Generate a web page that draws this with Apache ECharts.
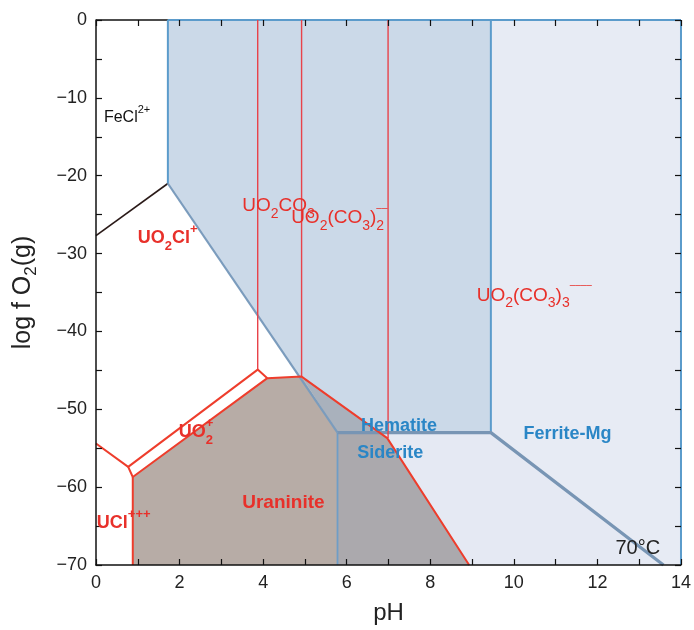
<!DOCTYPE html>
<html><head><meta charset="utf-8">
<script src="https://cdn.jsdelivr.net/npm/echarts@6/dist/echarts.min.js"></script>
<style>html,body{margin:0;padding:0;background:#fff}#c{width:694px;height:630px}</style>
</head><body><div id="c"></div>
<script>
// ---- tick labels ----
const xTickLabels = [0, 2, 4, 6, 8, 10, 12, 14];
const yTickLabels = [0, -10, -20, -30, -40, -50, -60, -70];

// ---- stability fields (pH, log fO2) ----
const hematite   = [[1.72, 0], [9.45, 0], [9.45, -53], [5.78, -53], [1.72, -21]];
const siderite   = [[5.78, -53], [9.45, -53], [13.58, -70], [5.78, -70]];
const ferriteMg  = [[9.45, 0], [14, 0], [14, -70], [13.58, -70], [9.45, -53]];
const uraninite  = [[0.88, -70], [0.88, -58.7], [4.1, -46], [4.92, -45.8], [5.78, -53], [5.78, -70]];
const uranHem    = [[4.92, -45.8], [6.79, -53], [5.78, -53]];
const uranSid    = [[5.78, -53], [6.79, -53], [6.97, -53.7], [8.93, -70], [5.78, -70]];

// ---- boundaries ----
const ironBlack   = [[0, -27.7], [1.72, -21]];
const uVert1      = [[3.87, 0], [3.87, -44.9]];
const uVert2      = [[4.92, 0], [4.92, -45.8]];
const uVert3      = [[6.99, 0], [6.99, -53.7]];
const uBandUpper  = [[0, -54.4], [0.77, -57.4], [3.87, -44.9], [4.1, -46]];
const uBandLower  = [[0.77, -57.4], [0.88, -58.7], [4.1, -46], [4.92, -45.8], [6.97, -53.7], [8.93, -70]];
const uUCl        = [[0.88, -58.7], [0.88, -70]];
const feVertLeft  = [[1.72, 0], [1.72, -21]];
const feDiag      = [[1.72, -21], [5.78, -53]];
const feVertMid   = [[9.45, 0], [9.45, -53]];
const feVertSid   = [[5.78, -53], [5.78, -70]];
const feThick     = [[5.78, -53], [9.45, -53], [13.58, -70]];
const frameTopK   = [[0, 0], [1.72, 0]];
const frameTop    = [[1.72, 0], [14, 0]];
const frameRight  = [[14, 0], [14, -70]];

// ---- labels ----
const labelNames = ['FeCl', 'UO2Cl+', 'UO2CO3', 'UO2(CO3)2', 'UO2(CO3)3', 'UO2+', 'UCl+++', 'Uraninite', 'Hematite', 'Siderite', 'Ferrite-Mg', '70°C'];
const labelPos = [[0.19, -12.5], [1.0, -28.0], [3.5, -23.9], [4.67, -25.4], [9.11, -35.4], [1.98, -52.9], [0.02, -64.6], [3.5, -62.0], [6.34, -52.2], [6.25, -55.6], [10.23, -53.2], [12.43, -67.9]];

const FONT = '"Liberation Sans", Arial, Helvetica, sans-serif';
const RED = '#e8302a';
const BLUE = '#2a86c6';

function polySeries(pts, fill) {
  return {
    type: 'custom', coordinateSystem: 'cartesian2d', silent: true, z: 1,
    data: [0],
    renderItem: function (params, api) {
      return { type: 'polygon', shape: { points: pts.map(p => api.coord(p)) }, style: { fill: fill } };
    }
  };
}
function lineSeries(pts, color, width) {
  return {
    type: 'line', data: pts, symbol: 'none', silent: true, clip: false, z: 3,
    lineStyle: { color: color, width: width }, animation: false
  };
}

const nb = { textBorderWidth: 0, textShadowBlur: 0 };
function st(o) { return Object.assign({ fontFamily: FONT }, nb, o); }
const rich = {
  b:     st({ fontSize: 18, fontWeight: 'bold', color: RED, lineHeight: 30 }),
  bb:    st({ fontSize: 19, fontWeight: 'bold', color: RED, lineHeight: 30 }),
  bsub:  st({ fontSize: 13, fontWeight: 'bold', color: RED, verticalAlign: 'bottom' }),
  bsub0: st({ fontSize: 13, fontWeight: 'bold', color: RED, verticalAlign: 'bottom', width: 0 }),
  bsup:  st({ fontSize: 13, fontWeight: 'bold', color: RED, verticalAlign: 'top' }),
  r:     st({ fontSize: 19, color: RED, lineHeight: 30 }),
  rsub:  st({ fontSize: 14, color: RED, verticalAlign: 'bottom' }),
  rsub0: st({ fontSize: 14, color: RED, verticalAlign: 'bottom', width: 0 }),
  rsup:  st({ fontSize: 10, color: RED, verticalAlign: 'top' }),
  bl:    st({ fontSize: 18, fontWeight: 'bold', color: BLUE }),
  k:     st({ fontSize: 16, color: '#111', lineHeight: 26 }),
  ksup:  st({ fontSize: 11, color: '#111', verticalAlign: 'top' }),
  t:     st({ fontSize: 20, color: '#222' })
};
const labelText = {
  'FeCl': '{k|FeCl}{ksup|2+}',
  'UO2Cl+': '{b|UO}{bsub|2}{b|Cl}{bsup|+}',
  'UO2CO3': '{r|UO}{rsub|2}{r|CO}{rsub|3}',
  'UO2(CO3)2': '{r|UO}{rsub|2}{r|(CO}{rsub|3}{r|)}{rsub0|2}{rsup|‒‒}',
  'UO2(CO3)3': '{r|UO}{rsub|2}{r|(CO}{rsub|3}{r|)}{rsub|3}{rsup|‒‒‒‒}',
  'UO2+': '{b|UO}{bsub0|2}{bsup|+}',
  'UCl+++': '{b|UCl}{bsup|+++}',
  'Uraninite': '{bb|Uraninite}',
  'Hematite': '{bl|Hematite}',
  'Siderite': '{bl|Siderite}',
  'Ferrite-Mg': '{bl|Ferrite-Mg}',
  '70°C': '{t|70°C}'
};

const chart = echarts.init(document.getElementById('c'), null, { renderer: 'canvas' });
function axisCommon(showLine) {
  return {
    type: 'value', splitLine: { show: false }, z: 6,
    axisTick: { inside: true, length: 6, lineStyle: { color: '#111', width: 1.2 } },
    axisLine: { show: showLine, onZero: false, lineStyle: { color: '#111', width: 1.5 } }
  };
}
chart.setOption({
  animation: false,
  backgroundColor: '#fff',
  grid: { left: 96, right: 11, top: 20, bottom: 59 },
  xAxis: [
    Object.assign(axisCommon(true), {
      min: 0, max: 14, interval: 1, position: 'bottom',
      axisLabel: { formatter: v => xTickLabels.includes(v) ? String(v) : '', fontFamily: FONT, fontSize: 18, color: '#222', margin: 9 },
      name: 'pH', nameLocation: 'middle', nameGap: 36,
      nameTextStyle: { fontFamily: FONT, fontSize: 24, color: '#222' }
    }),
    Object.assign(axisCommon(false), {
      min: 0, max: 14, interval: 1, position: 'top', axisLabel: { show: false }
    })
  ],
  yAxis: [
    Object.assign(axisCommon(true), {
      min: -70, max: 0, interval: 5, position: 'left',
      axisLabel: {
        formatter: v => yTickLabels.includes(v) ? (v < 0 ? '\u2212' + (-v) : String(v)) : '',
        fontFamily: FONT, fontSize: 18, color: '#222', margin: 9
      },
      name: '{n|log f O}{s|2}{n|(g)}', nameLocation: 'middle', nameGap: 56,
      nameTextStyle: {
        rich: {
          n: { fontFamily: FONT, fontSize: 25, color: '#222', lineHeight: 34 },
          s: { fontFamily: FONT, fontSize: 17, color: '#222', verticalAlign: 'bottom' }
        }
      }
    }),
    Object.assign(axisCommon(false), {
      min: -70, max: 0, interval: 5, position: 'right', axisLabel: { show: false }
    })
  ],
  series: [
    polySeries(hematite, '#cbd9e8'),
    polySeries(siderite, '#e5e9f3'),
    polySeries(ferriteMg, '#e7ebf4'),
    polySeries(uraninite, '#b7aca6'),
    polySeries(uranHem, '#a9b1bc'),
    polySeries(uranSid, '#aba9ad'),
    lineSeries(ironBlack, '#2a1a18', 1.6),
    lineSeries(frameTopK, '#111111', 1.5),
    lineSeries(feVertLeft, '#5b9bcb', 2),
    lineSeries(feDiag, '#7b9cbd', 2.2),
    lineSeries(feVertMid, '#5b9bcb', 2),
    lineSeries(feVertSid, '#6f9dc6', 1.8),
    lineSeries(frameTop, '#5b9bcb', 2),
    lineSeries(frameRight, '#5b9bcb', 2),
    lineSeries(feThick, '#7895b4', 3.2),
    lineSeries(uVert1, '#e8434a', 1.4),
    lineSeries(uVert2, '#e8434a', 1.4),
    lineSeries(uVert3, '#e8434a', 1.4),
    lineSeries(uBandUpper, '#ee3d2c', 2),
    lineSeries(uBandLower, '#ee3d2c', 2),
    lineSeries(uUCl, '#ee3d2c', 2),
    {
      type: 'scatter', symbolSize: 0, silent: true, z: 7, animation: false,
      itemStyle: { opacity: 1 },
      data: labelNames.map((n, i) => ({ name: n, value: labelPos[i] })),
      label: {
        show: true, position: [0, 0], align: 'left', verticalAlign: 'middle',
        textBorderWidth: 0, color: RED, opacity: 1,
        formatter: p => labelText[p.name], rich: rich
      }
    }
  ]
});
</script>
</body></html>
